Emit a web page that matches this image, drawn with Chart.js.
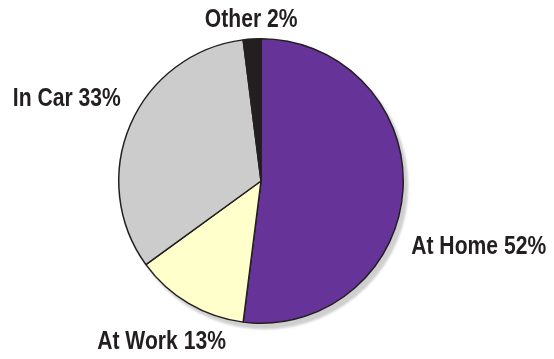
<!DOCTYPE html>
<html>
<head>
<meta charset="utf-8">
<script src="https://cdn.jsdelivr.net/npm/chart.js@4.4.1/dist/chart.umd.min.js"></script>
<style>
  html, body { margin: 0; padding: 0; background: #fff; }
  #wrap { width: 554px; height: 359px; position: relative; }
</style>
</head>
<body>
<div id="wrap"><canvas id="pie"></canvas></div>
<script>
const labels = ['At Home', 'At Work', 'In Car', 'Other'];
const shares = [52, 13, 33, 2];
const colors = ['#663399', '#ffffcc', '#cccccc', '#231f20'];

// where each caption sits: angle clockwise from 12 o'clock, distance as a
// multiple of the pie radius, and how the text hangs off that point
const captionAngle = [113.9, 211.7, 300.2, 356.5];
const captionDist = [1.155, 1.33, 1.14, 1.135];
const captionAlign = ['left', 'center', 'right', 'center'];

// soft grey drop shadow behind the whole pie
const pieShadow = {
  id: 'pieShadow',
  beforeDatasetsDraw(chart) {
    const arc = chart.getDatasetMeta(0).data[0];
    if (!arc) return;
    const { x, y, outerRadius } = arc.getProps(['x', 'y', 'outerRadius'], true);
    const ctx = chart.ctx;
    ctx.save();
    ctx.filter = 'blur(1px)';
    ctx.fillStyle = '#cfcfcf';
    ctx.beginPath();
    ctx.arc(x + 4, y + 5, outerRadius + 1, 0, Math.PI * 2);
    ctx.fill();
    ctx.restore();
  }
};

// "Label NN%" captions around the pie, squeezed horizontally for a
// condensed look since no narrow face is installed
const pieCaptions = {
  id: 'pieCaptions',
  afterDatasetsDraw(chart) {
    const arc = chart.getDatasetMeta(0).data[0];
    if (!arc) return;
    const { x, y, outerRadius } = arc.getProps(['x', 'y', 'outerRadius'], true);
    const ctx = chart.ctx;
    labels.forEach((name, i) => {
      const a = captionAngle[i] * Math.PI / 180;
      const d = outerRadius * captionDist[i];
      ctx.save();
      ctx.translate(x + Math.sin(a) * d, y - Math.cos(a) * d);
      ctx.scale(0.845, 1);
      ctx.font = 'bold 25px "Liberation Sans", Arial, sans-serif';
      ctx.fillStyle = '#231f20';
      ctx.textBaseline = 'middle';
      ctx.textAlign = captionAlign[i];
      ctx.fillText(name + ' ' + shares[i] + '%', 0, 0);
      ctx.restore();
    });
  }
};

new Chart(document.getElementById('pie'), {
  type: 'pie',
  data: {
    labels: labels,
    datasets: [{
      data: shares,
      backgroundColor: colors,
      borderColor: '#231f20',
      borderWidth: 1.5
    }]
  },
  options: {
    responsive: true,
    maintainAspectRatio: false,
    animation: false,
    layout: { padding: { left: 118, right: 150, top: 38, bottom: 35 } },
    plugins: {
      legend: { display: false },
      tooltip: { enabled: false }
    }
  },
  plugins: [pieShadow, pieCaptions]
});
</script>
</body>
</html>
